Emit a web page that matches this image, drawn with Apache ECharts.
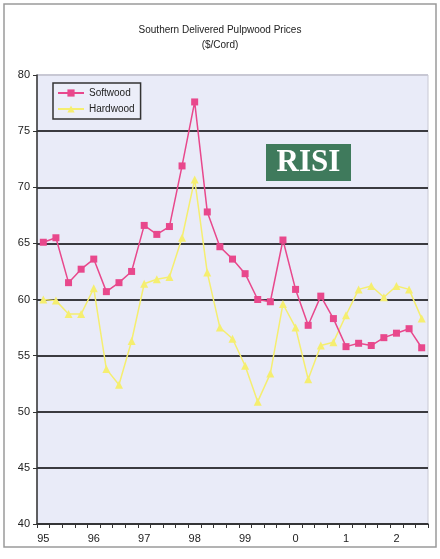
<!DOCTYPE html>
<html>
<head>
<meta charset="utf-8">
<script src="https://cdn.jsdelivr.net/npm/echarts@6/dist/echarts.min.js"></script>
<style>
  html, body { margin: 0; padding: 0; background: #ffffff; }
  #chart { width: 440px; height: 559px; }
</style>
</head>
<body>
<div id="chart"></div>
<script>
// Quarterly periods, 1995 Q1 through 2002 Q3
const quarters = [
  '95', '95Q2', '95Q3', '95Q4',
  '96', '96Q2', '96Q3', '96Q4',
  '97', '97Q2', '97Q3', '97Q4',
  '98', '98Q2', '98Q3', '98Q4',
  '99', '99Q2', '99Q3', '99Q4',
  '0', '00Q2', '00Q3', '00Q4',
  '1', '01Q2', '01Q3', '01Q4',
  '2', '02Q2', '02Q3'
];

// Year labels shown under the axis (one per four quarters)
const yearLabels = ['95', '96', '97', '98', '99', '0', '1', '2'];

// Delivered prices, $/cord
const softwood = [
  65.1, 65.5, 61.5, 62.7, 63.6, 60.7, 61.5, 62.5,
  66.6, 65.8, 66.5, 71.9, 77.6, 67.8, 64.7, 63.6,
  62.3, 60.0, 59.8, 65.3, 60.9, 57.7, 60.3, 58.3,
  55.8, 56.1, 55.9, 56.6, 57.0, 57.4, 55.7
];
const hardwood = [
  60.0, 59.9, 58.7, 58.7, 61.0, 53.8, 52.4, 56.3,
  61.4, 61.8, 62.0, 65.5, 70.7, 62.4, 57.5, 56.5,
  54.1, 50.9, 53.4, 59.6, 57.5, 52.9, 55.9, 56.2,
  58.6, 60.9, 61.2, 60.2, 61.2, 60.9, 58.3
];

const yTicks = [40, 45, 50, 55, 60, 65, 70, 75, 80];

// Dark gridlines everywhere except the top edge, which stays a faint border
const gridColors = yTicks.map((v, i) => (i === yTicks.length - 1 ? '#c8c8d4' : '#3a3a40'));

const chart = echarts.init(document.getElementById('chart'), null, { renderer: 'canvas' });
const FONT = 'Liberation Sans';

chart.setOption({
  backgroundColor: '#ffffff',
  animation: false,
  title: {
    text: 'Southern Delivered Pulpwood Prices\n($/Cord)',
    left: 'center',
    top: 18,
    textStyle: {
      fontFamily: FONT, fontSize: 10, fontWeight: 'normal',
      color: '#222', lineHeight: 15
    }
  },
  legend: {
    orient: 'vertical',
    left: 53, top: 83,
    itemWidth: 26, itemHeight: 9, itemGap: 6,
    padding: [5, 6, 5, 4],
    borderColor: '#333', borderWidth: 1.5,
    backgroundColor: '#eceef9',
    textStyle: { fontFamily: FONT, fontSize: 10, color: '#222' },
    data: ['Softwood', 'Hardwood']
  },
  grid: {
    left: 37, right: 12, top: 75, bottom: 35,
    show: true, backgroundColor: '#e9ebf8',
    borderColor: '#c8c8d4', borderWidth: 1
  },
  xAxis: {
    type: 'category',
    data: quarters,
    boundaryGap: true,
    axisLine: { lineStyle: { color: '#333', width: 1.5 } },
    axisTick: { show: true, interval: 0, length: 4, lineStyle: { color: '#333' } },
    axisLabel: {
      interval: 3,
      margin: 9,
      fontFamily: FONT, fontSize: 11, color: '#222',
      formatter: (v, i) => yearLabels[i / 4]
    },
    splitLine: { show: false }
  },
  yAxis: {
    type: 'value',
    min: yTicks[0], max: yTicks[yTicks.length - 1], interval: 5,
    axisLine: { show: true, lineStyle: { color: '#333', width: 1.5 } },
    axisTick: { show: true, length: 4, lineStyle: { color: '#333' } },
    axisLabel: { fontFamily: FONT, fontSize: 11, color: '#222', margin: 7 },
    splitLine: { show: true, lineStyle: { color: gridColors, width: 2 } }
  },
  series: [
    {
      name: 'Softwood', type: 'line', data: softwood,
      symbol: 'rect', symbolSize: 7,
      lineStyle: { color: '#e8488c', width: 1.5 },
      itemStyle: { color: '#e8488c' },
      z: 3
    },
    {
      name: 'Hardwood', type: 'line', data: hardwood,
      symbol: 'triangle', symbolSize: 8,
      lineStyle: { color: '#f5ee70', width: 1.5 },
      itemStyle: { color: '#f5ee70' },
      z: 2
    }
  ],
  graphic: [
    {
      type: 'rect', z: -10, silent: true,
      shape: { x: 4, y: 4, width: 432, height: 543 },
      style: { fill: null, stroke: '#9a9a9a', lineWidth: 1.5 }
    },
    {
      type: 'group', left: 266, top: 144, z: 20,
      children: [
        { type: 'rect', shape: { x: 0, y: 0, width: 85, height: 37 }, style: { fill: '#3f7a5c' } },
        {
          type: 'text', x: 42.5, y: 19,
          style: {
            text: 'RISI', fill: '#ffffff',
            font: 'bold 31px "Liberation Serif", serif',
            align: 'center', verticalAlign: 'middle'
          }
        }
      ]
    }
  ]
});
</script>
</body>
</html>
